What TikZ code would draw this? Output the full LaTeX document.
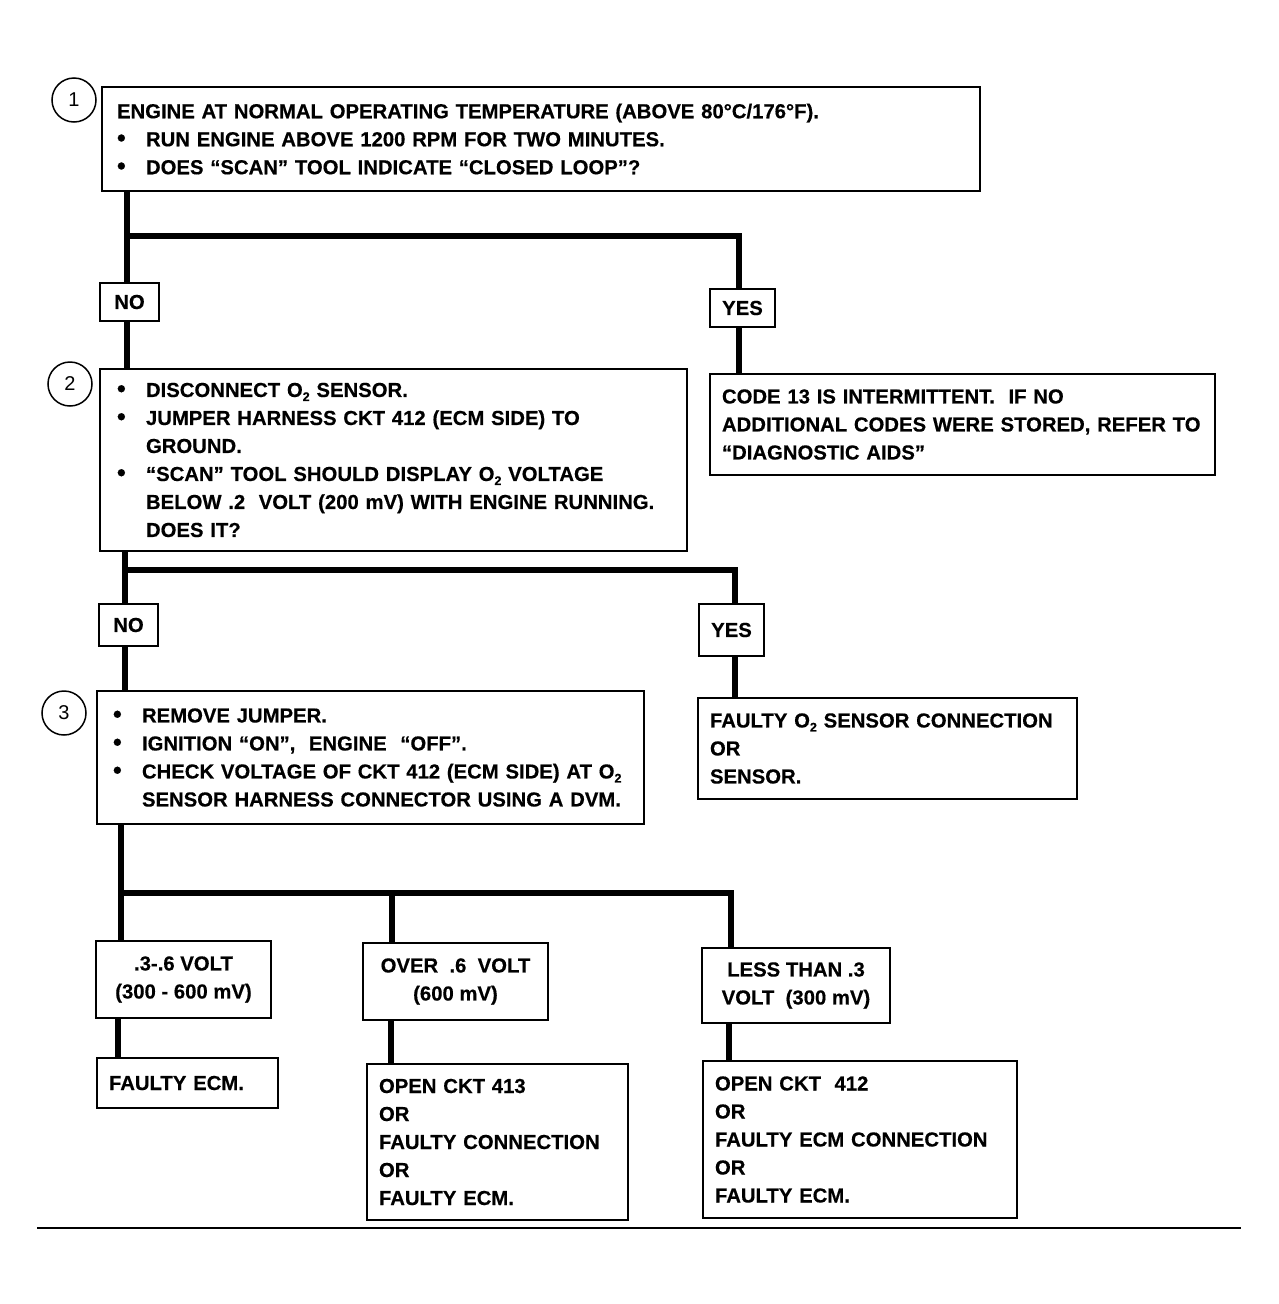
\documentclass[tikz,border=0pt]{standalone}
\usepackage{fontspec}
\setmainfont{Liberation Sans}[BoldFeatures={FakeBold=0.4}]
\newcommand\txtf{\bfseries\fontsize{20.3}{28}\selectfont}
\newcommand\numf{\fontsize{20}{24}\selectfont}
\newcommand\bul{\makebox[29pt][l]{\raisebox{0pt}{\fontsize{25}{25}\selectfont\textbullet}}}
\newcommand\ind{\hspace*{29pt}}
\newcommand\Otwo{O\raisebox{-4pt}{\fontsize{12.5}{12.5}\selectfont 2}}
\tikzset{
  box/.style={draw, line width=2pt, anchor=north west, align=left, inner ysep=0pt, inner xsep=12pt, font=\txtf},
  cbox/.style={draw, line width=2pt, anchor=north west, align=center, inner sep=0pt, font=\txtf},
  conn/.style={line width=6.5pt},
  num/.style={circle, draw, line width=1.5pt, minimum size=44pt, inner sep=0pt, font=\numf},
  rule/.style={line width=1.2pt}
}
\begin{document}
\begin{tikzpicture}[x=1pt,y=-1pt]
\useasboundingbox (0,0) rectangle (1279,1304);
\fill[white] (0,0) rectangle (1279,1304);

% step 1
\node[num] (n1) at (74,100) {1};
\node[box, inner xsep=15pt, text width=848pt, minimum height=104pt] (b1) at (101,86)
 {ENGINE AT NORMAL OPERATING TEMPERATURE (ABOVE 80°C/176°F).\\
  \bul RUN ENGINE ABOVE 1200 RPM FOR TWO MINUTES.\\
  \bul DOES “SCAN” TOOL INDICATE “CLOSED LOOP”?};
\node[cbox, minimum width=59pt, minimum height=38pt] (no1) at (99,282) {NO};
\node[cbox, minimum width=65pt, minimum height=38pt] (yes1) at (709,288) {YES};
\node[box, text width=481pt, minimum height=101pt] (b13) at (709,373)
 {CODE 13 IS INTERMITTENT.\ \ IF NO\\
  ADDITIONAL CODES WERE STORED, REFER TO\\
  “DIAGNOSTIC AIDS”};

% step 2
\node[num] (n2) at (70,384) {2};
\node[box, inner xsep=17pt, text width=553pt, minimum height=182pt] (b2) at (99,368)
 {\bul DISCONNECT \Otwo{} SENSOR.\\
  \bul JUMPER HARNESS CKT 412 (ECM SIDE) TO\\
  \ind GROUND.\\
  \bul “SCAN” TOOL SHOULD DISPLAY \Otwo{} VOLTAGE\\
  \ind BELOW .2\ \ VOLT (200 mV) WITH ENGINE RUNNING.\\
  \ind DOES IT?};
\node[cbox, minimum width=59pt, minimum height=42pt] (no2) at (98,603) {NO};
\node[cbox, minimum width=65pt, minimum height=52pt] (yes2) at (698,603) {YES};
\node[box, text width=355pt, minimum height=101pt] (bo2) at (697,697)
 {FAULTY \Otwo{} SENSOR CONNECTION\\
  OR\\
  SENSOR.};

% step 3
\node[num] (n3) at (64,713) {3};
\node[box, inner xsep=16pt, text width=515pt, minimum height=133pt] (b3) at (96,690)
 {\bul REMOVE JUMPER.\\
  \bul IGNITION “ON”,\ \ ENGINE\ \ “OFF”.\\
  \bul CHECK VOLTAGE OF CKT 412 (ECM SIDE) AT \Otwo\\
  \ind SENSOR HARNESS CONNECTOR USING A DVM.};

\node[cbox, minimum width=175pt, minimum height=77pt] (ba) at (95,940) {.3-.6 VOLT\\(300 - 600 mV)};
\node[cbox, minimum width=185pt, minimum height=77pt] (bb) at (362,942) {OVER\ \ .6\ \ VOLT\\(600 mV)};
\node[cbox, minimum width=188pt, minimum height=75pt] (bc) at (701,947) {LESS THAN .3\\VOLT\ \ (300 mV)};

\node[box, text width=157pt, minimum height=50pt] (ra) at (96,1057) {FAULTY ECM.};
\node[box, text width=237pt, minimum height=156pt] (rb) at (366,1063)
 {OPEN CKT 413\\OR\\FAULTY CONNECTION\\OR\\FAULTY ECM.};
\node[box, text width=290pt, minimum height=157pt] (rc) at (702,1060)
 {OPEN CKT\ \ 412\\OR\\FAULTY ECM CONNECTION\\OR\\FAULTY ECM.};

% connector guide coordinates
\coordinate (xa) at (127,0);
\coordinate (xb) at (739,0);
\coordinate (ya) at (0,236);
\coordinate (xc) at (125,0);
\coordinate (xd) at (735,0);
\coordinate (yb) at (0,570);
\coordinate (xe) at (121,0);
\coordinate (xf) at (392,0);
\coordinate (xg) at (731,0);
\coordinate (yc) at (0,893);
\coordinate (xh) at (118,0);
\coordinate (xi) at (391,0);
\coordinate (xj) at (729,0);

\draw[conn] (b1.south -| xa) -- (no1.north -| xa);
\draw[conn] (xa |- ya) -| (yes1.north -| xb);
\draw[conn] (no1.south -| xa) -- (b2.north -| xa);
\draw[conn] (yes1.south -| xb) -- (b13.north -| xb);

\draw[conn] (b2.south -| xc) -- (no2.north -| xc);
\draw[conn] (xc |- yb) -| (yes2.north -| xd);
\draw[conn] (no2.south -| xc) -- (b3.north -| xc);
\draw[conn] (yes2.south -| xd) -- (bo2.north -| xd);

\draw[conn] (b3.south -| xe) -- (ba.north -| xe);
\draw[conn] (xe |- yc) -| (bc.north -| xg);
\draw[conn] (xf |- yc) -- (bb.north -| xf);
\draw[conn] (ba.south -| xh) -- (ra.north -| xh);
\draw[conn] (bb.south -| xi) -- (rb.north -| xi);
\draw[conn] (bc.south -| xj) -- (rc.north -| xj);

\coordinate (r0) at (37,1228);
\coordinate (r1) at (1241,1228);
\draw[rule] (r0) -- (r1);
\end{tikzpicture}
\end{document}
